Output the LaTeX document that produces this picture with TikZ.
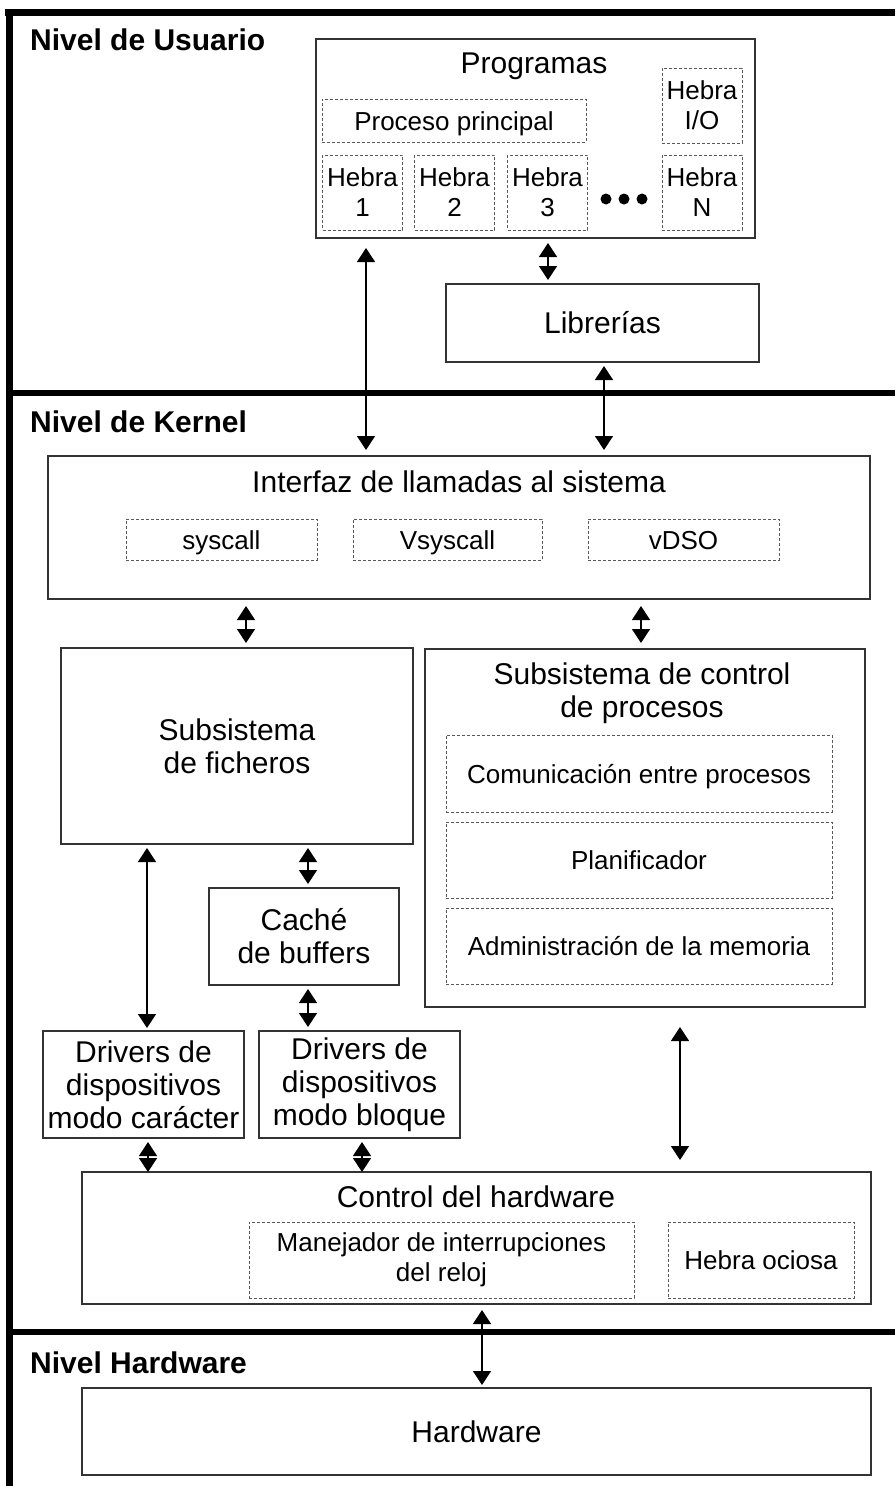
\documentclass[tikz,border=0pt]{standalone}
\usepackage{fontspec}
\setmainfont{Liberation Sans}
\usetikzlibrary{arrows.meta}
\begin{document}
\begin{tikzpicture}[x=1pt,y=-1pt,
  box/.style={draw=black!80, line width=1.5pt, inner sep=0pt, outer sep=0pt, align=center, font=\fontsize{30}{33}\selectfont},
  subbox/.style={draw=black!65, line width=1pt, dash pattern=on 3pt off 2pt, inner sep=0pt, outer sep=0pt, align=center, font=\fontsize{26}{30}\selectfont},
  flat/.style={text height=#1, text depth=0pt},
  biarrow/.style={{Triangle[width=18pt,length=14pt]}-{Triangle[width=18pt,length=14pt]}, line width=1.3pt},
  level/.style={line width=7pt},
  title/.style={inner sep=0pt, align=center, font=\fontsize{30}{33}\selectfont},
  lvl/.style={anchor=base west, inner sep=0pt, font=\fontsize{30}{33}\selectfont\bfseries}]
\useasboundingbox (0,0) rectangle (895,1486);
% frame and levels
\draw [level] (5,12.5) -- (895,12.5);
\draw [level] (9.5,9) -- (9.5,1486);
\draw [level, line width=6pt] (9.5,393) -- (895,393);
\draw [level, line width=6pt] (9.5,1332) -- (895,1332);
\node [lvl] (usr) at (30,50) {Nivel de Usuario};
\node [lvl] (krn) at (30,432) {Nivel de Kernel};
\node [lvl] (hwl) at (30,1373) {Nivel Hardware};
% user level
\node [box, minimum width=439pt, minimum height=199pt] (prog) at (535.5,138.5) {};
\node [title, anchor=base] (progT) at (534,73) {Programas};
\node [subbox, flat=19pt, minimum width=264pt, minimum height=43pt] (pmain) at (454,120.5) {Proceso principal};
\node [subbox, minimum width=80pt, minimum height=75pt] (hio) at (702,105.5) {Hebra\\I/O};
\node [subbox, minimum width=80pt, minimum height=75pt] (h1) at (362.5,192.5) {Hebra\\1};
\node [subbox, minimum width=80pt, minimum height=75pt] (h2) at (454.5,192.5) {Hebra\\2};
\node [subbox, minimum width=80pt, minimum height=75pt] (h3) at (547.5,192.5) {Hebra\\3};
\node [subbox, minimum width=80pt, minimum height=75pt] (hN) at (702,192.5) {Hebra\\N};
\fill (606,199) circle (5.5pt) (624,199) circle (5.5pt) (642,199) circle (5.5pt);
\node [box, flat=21pt, minimum width=313pt, minimum height=78pt] (lib) at (602.5,323) {Librerías};
% kernel level
\node [box, minimum width=822pt, minimum height=143pt] (ifz) at (459,527.5) {};
\node [title, anchor=base] (ifzT) at (459,492) {Interfaz de llamadas al sistema};
\node [subbox, flat=19pt, minimum width=191pt, minimum height=41pt] (sysc) at (221.5,539.5) {syscall};
\node [subbox, flat=19pt, minimum width=189pt, minimum height=41pt] (vsys) at (447.5,539.5) {Vsyscall};
\node [subbox, flat=19pt, minimum width=191pt, minimum height=41pt] (vdso) at (683.5,539.5) {vDSO};
\node [box, minimum width=352pt, minimum height=196pt] (fich) at (237,746) {Subsistema\\de ficheros};
\node [box, minimum width=440pt, minimum height=358pt] (proc) at (645,828) {};
\node [title, anchor=north] (procT) at (642,663) {Subsistema de control\\de procesos};
\node [subbox, flat=19pt, minimum width=386pt, minimum height=77pt] (ipc) at (639,773.5) {Comunicación entre procesos};
\node [subbox, flat=19pt, minimum width=386pt, minimum height=76pt] (plan) at (639,860) {Planificador};
\node [subbox, flat=19pt, minimum width=386pt, minimum height=76pt] (mem) at (639,946) {Administración de la memoria};
\node [box, minimum width=190pt, minimum height=97pt] (cache) at (304,936.5) {Caché\\de buffers};
\node [box, minimum width=201pt, minimum height=107pt] (drvc) at (143.5,1084.5) {Drivers de\\dispositivos\\modo carácter};
\node [box, minimum width=201pt, minimum height=107pt] (drvb) at (359.5,1084.5) {Drivers de\\dispositivos\\modo bloque};
\node [box, minimum width=789pt, minimum height=132pt] (ctl) at (476.5,1238) {};
\node [title, anchor=base] (ctlT) at (476,1207) {Control del hardware};
\node [subbox, minimum width=385pt, minimum height=76pt] (irq) at (441.5,1260) {Manejador de interrupciones\\del reloj};
\node [subbox, flat=19pt, minimum width=186pt, minimum height=76pt] (idle) at (761,1260) {Hebra ociosa};
% hardware level
\node [box, flat=21pt, minimum width=789pt, minimum height=87pt] (hw) at (476.5,1431.5) {Hardware};
% connectors
\draw [biarrow] ([xshift=12.5pt,yshift=-5pt]prog.south) -- ([xshift=-54.5pt,yshift=4pt]lib.north);
\draw [biarrow] ([xshift=-169.5pt,yshift=-10pt]prog.south) -- ([xshift=-93pt,yshift=6pt]ifz.north);
\draw [biarrow] ([xshift=1.5pt,yshift=-4pt]lib.south) -- ([xshift=145pt,yshift=6pt]ifz.north);
\draw [biarrow] ([xshift=-213pt,yshift=-7pt]ifz.south) -- ([xshift=9pt,yshift=5pt]fich.north);
\draw [biarrow] ([xshift=182pt,yshift=-7pt]ifz.south) -- ([xshift=-4pt,yshift=6pt]proc.north);
\draw [biarrow] ([xshift=-90pt,yshift=-4pt]fich.south) -- ([xshift=3.5pt,yshift=3pt]drvc.north);
\draw [biarrow] ([xshift=71pt,yshift=-4pt]fich.south) -- ([xshift=4pt,yshift=4pt]cache.north);
\draw [biarrow] ([xshift=4pt,yshift=-4pt]cache.south) -- ([xshift=-51.5pt,yshift=4pt]drvb.north);
\draw [biarrow] ([xshift=35pt,yshift=-20pt]proc.south) -- ([xshift=203.5pt,yshift=12pt]ctl.north);
\draw [biarrow] ([xshift=4.5pt,yshift=-4pt]drvc.south) -- ([xshift=-328.5pt]ctl.north);
\draw [biarrow] ([xshift=2.5pt,yshift=-4pt]drvb.south) -- ([xshift=-114.5pt]ctl.north);
\draw [biarrow] ([xshift=5.5pt,yshift=-6pt]ctl.south) -- ([xshift=5.5pt,yshift=3pt]hw.north);
\end{tikzpicture}
\end{document}
